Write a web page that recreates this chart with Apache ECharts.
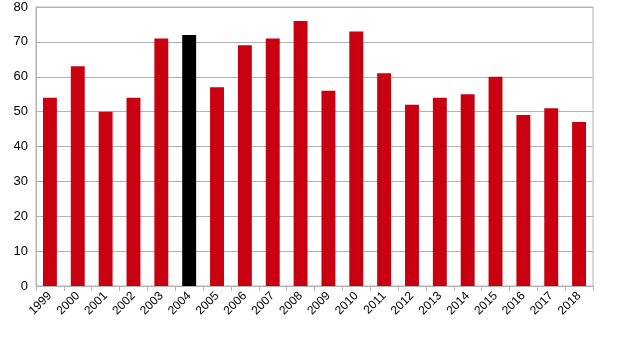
<!DOCTYPE html>
<html><head><meta charset="utf-8">
<script src="https://cdn.jsdelivr.net/npm/echarts@6/dist/echarts.min.js"></script>
<style>html,body{margin:0;padding:0;background:#fff}#c{width:618px;height:346px}</style>
</head><body><div id="c"></div>
<script>
const years = ['1999','2000','2001','2002','2003','2004','2005','2006','2007','2008','2009','2010','2011','2012','2013','2014','2015','2016','2017','2018'];
const values = [54,63,50,54,71,72,57,69,71,76,56,73,61,52,54,55,60,49,51,47];
const highlightYear = '2004';
const yTicks = {min:0, max:80, interval:10};

const chart = echarts.init(document.getElementById('c'), null, {renderer:'canvas'});
chart.setOption({
  animation:false,
  backgroundColor:'#fff',
  grid:{left:36,right:25,top:7,bottom:60,show:true,borderColor:'#b3b3b3',borderWidth:1,backgroundColor:'transparent'},
  xAxis:{type:'category',data:years,
    axisLine:{lineStyle:{color:'#b3b3b3'}},
    axisTick:{show:true,length:5,lineStyle:{color:'#b3b3b3'}},
    axisLabel:{rotate:45,color:'#000',fontFamily:'Liberation Sans',fontSize:12,margin:8,interval:0}},
  yAxis:{type:'value',min:yTicks.min,max:yTicks.max,interval:yTicks.interval,
    axisLine:{show:true,lineStyle:{color:'#b3b3b3'}},
    axisTick:{show:false},
    splitLine:{lineStyle:{color:'#b3b3b3'}},
    axisLabel:{color:'#000',fontFamily:'Liberation Sans',fontSize:13,margin:8}},
  series:[{type:'bar',barWidth:'50%',
    data:values.map((v,i)=>({value:v,itemStyle:{color:years[i]===highlightYear?'#000000':'#c9000f'}}))}]
});
</script></body></html>
